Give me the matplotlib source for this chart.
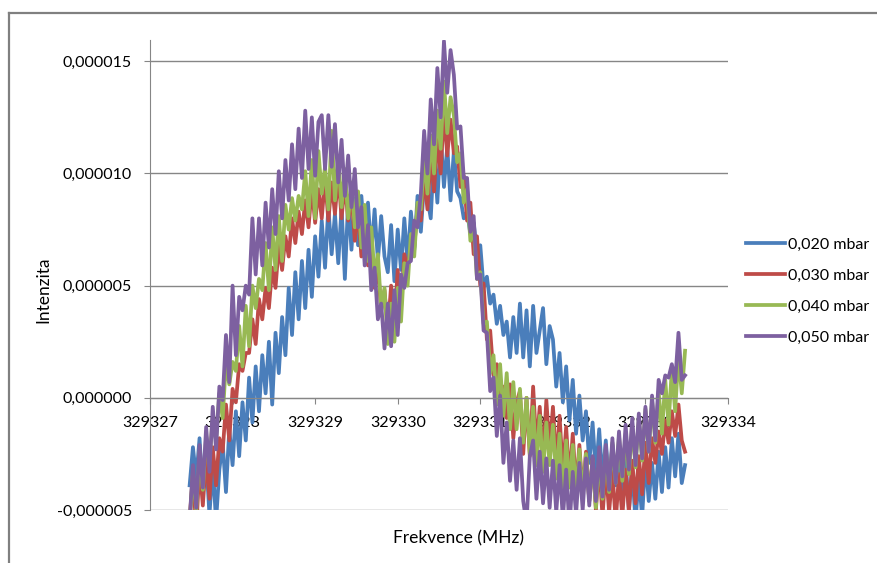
import numpy as np
import matplotlib
matplotlib.use("Agg")
import matplotlib.pyplot as plt
from matplotlib.ticker import FuncFormatter

plt.rcParams['font.family'] = ['Lato', 'DejaVu Sans']

# frequency sweep, MHz (151 samples)
freq = np.linspace(329327.48, 329333.48, 151)

# intensity in units of 1e-6
p020 = [-3.9, -2.2, -3.6, -1.8, -4.3, -2.7, -5.2, -3.0, -5.5, -3.2,
        -2.0, -4.2, -1.4, -3.0, -0.6, -2.6, -0.2, -1.9, 0.9, -1.1,
        1.4, -0.6, 1.9, 0.2, 2.5, -0.3, 2.9, 1.1, 3.6, 1.9,
        4.9, 2.8, 5.6, 3.5, 6.1, 4.0, 6.6, 4.5, 7.2, 5.4,
        7.9, 5.8, 8.5, 6.4, 8.2, 6.0, 8.5, 5.3, 8.8, 6.6,
        8.9, 6.8, 9.0, 7.0, 8.7, 6.4, 8.4, 6.1, 8.1, 6.3,
        5.6, 7.7, 5.2, 7.5, 5.7, 8.0, 6.0, 8.3, 6.6, 9.0,
        7.4, 9.6, 8.9, 8.0, 11.0, 8.7, 11.7, 9.4, 11.2, 8.8,
        11.0, 9.2, 8.9, 8.0, 8.3, 7.3, 7.8, 6.5, 6.8, 4.9,
        5.4, 4.2, 4.6, 3.3, 4.1, 2.8, 3.4, 1.8, 3.6, 2.0,
        4.2, 1.8, 3.9, 1.4, 4.1, 2.0, 3.0, 4.0, 1.5, 3.2,
        2.6, 0.5, 2.0, -0.2, 1.4, -1.0, 0.8, -1.6, 0.1, -1.9,
        -0.6, -2.9, -1.1, -3.4, -1.4, -3.7, -1.9, -4.0, -2.1, -3.9,
        -2.3, -4.5, -2.8, -5.0, -3.2, -5.5, -3.5, -5.3, -2.7, -4.6,
        -2.9, -4.5, -2.4, -4.2, -2.2, -4.0, -1.8, -3.5, -1.6, -3.8, -3.0]

p030 = [-5.4, -3.4, -5.9, -3.0, -4.8, -2.6, -4.5, -2.2, -3.9, -1.8,
        -2.4, -0.3, -1.9, 0.4, -0.2, 1.5, 1.2, 2.0, 2.0, 3.5,
        2.4, 4.4, 3.5, 4.9, 4.0, 5.8, 4.9, 6.8, 5.7, 7.2,
        6.3, 8.0, 6.9, 8.3, 7.3, 8.8, 7.6, 9.4, 7.8, 9.3,
        8.0, 9.8, 7.9, 9.6, 8.2, 10.0, 8.0, 9.6, 7.9, 9.1,
        7.0, 8.4, 6.3, 7.4, 5.9, 6.5, 4.9, 5.8, 3.9, 4.8,
        3.0, 5.0, 3.3, 5.7, 4.0, 6.4, 5.7, 6.8, 6.7, 8.5,
        7.9, 9.9, 8.4, 10.8, 9.2, 11.6, 10.0, 12.8, 10.8, 12.4,
        10.9, 11.2, 9.4, 9.9, 7.9, 8.7, 6.4, 7.2, 5.0, 5.1,
        2.6, 3.0, 1.0, 1.5, 0.0, 0.5, -0.9, 0.6, -1.8, -0.2,
        0.3, -2.5, 0.0, -2.6, 0.5, -2.2, -0.4, -2.8, -0.1, -2.3,
        -0.4, -3.0, -0.8, -3.3, -1.3, -3.7, -1.6, -4.1, -2.1, -4.3,
        -2.4, -4.6, -2.7, -5.0, -2.9, -5.3, -3.1, -5.1, -3.3, -5.5,
        -3.4, -5.3, -3.2, -5.1, -2.8, -4.7, -2.6, -4.3, -2.0, -3.8,
        -1.8, -2.9, -1.5, -2.5, -1.0, -2.0, -0.6, -1.7, -0.3, -1.9, -2.4]

p040 = [-5.6, -3.3, -5.0, -2.4, -4.1, -1.7, -2.8, -0.9, -1.9, 0.2,
        -0.9, 1.6, 0.6, 1.6, 1.2, 3.2, 1.4, 4.1, 2.3, 5.0,
        4.0, 5.3, 4.8, 6.9, 4.8, 7.6, 5.7, 8.1, 6.1, 8.6,
        7.5, 8.9, 7.9, 9.0, 8.4, 10.1, 8.1, 10.6, 8.0, 11.0,
        9.1, 10.3, 8.4, 11.9, 8.8, 10.7, 8.5, 10.2, 8.0, 9.6,
        7.6, 9.2, 6.7, 8.6, 6.1, 7.6, 5.4, 6.4, 3.9, 4.9,
        2.4, 4.2, 2.5, 4.9, 3.4, 6.0, 5.0, 7.3, 6.3, 8.7,
        8.4, 10.7, 9.1, 11.7, 10.0, 12.8, 11.1, 14.1, 11.8, 13.4,
        12.6, 10.5, 10.9, 8.7, 9.3, 7.0, 7.6, 5.3, 5.6, 3.3,
        3.4, 1.1, 1.9, -0.3, 1.5, -0.8, 1.1, -1.4, 0.7, -1.4,
        0.4, -2.0, 0.0, -2.5, -0.4, -3.0, -0.8, -3.3, -1.1, -3.0,
        -1.2, -3.6, -1.6, -4.6, -1.9, -4.0, -2.1, -4.3, -2.3, -4.4,
        -2.5, -4.6, -2.8, -4.9, -2.6, -4.5, -2.3, -4.2, -2.0, -3.8,
        -1.7, -3.7, -1.6, -3.4, -1.2, -3.1, -0.9, -2.8, -0.5, -2.4,
        -0.1, -2.0, 0.3, -1.6, 0.8, -1.2, 1.3, -0.6, 1.9, 0.2, 2.1]

p050 = [-5.5, -3.0, -4.9, -2.1, -4.0, -1.3, -3.3, -0.4, -2.3, 0.5,
        -0.1, 2.8, 0.7, 5.0, 1.9, 4.5, 3.9, 5.0, 4.6, 8.0,
        5.5, 8.0, 5.9, 8.7, 6.7, 9.3, 7.3, 10.1, 8.0, 10.6,
        8.8, 11.3, 9.3, 12.0, 9.8, 12.8, 10.2, 12.5, 9.9, 12.3,
        12.6, 10.2, 12.6, 10.3, 12.2, 9.6, 11.5, 9.0, 10.8, 8.5,
        10.2, 7.6, 8.5, 5.9, 7.7, 4.8, 5.8, 3.5, 4.2, 2.2,
        4.2, 2.3, 4.8, 2.8, 5.5, 4.9, 6.0, 6.1, 7.9, 7.6,
        9.1, 11.9, 10.0, 13.3, 11.3, 14.7, 12.5, 15.9, 13.6, 15.5,
        14.4, 12.0, 12.1, 9.8, 9.8, 7.4, 8.1, 5.3, 5.5, 3.0,
        2.9, 0.3, 0.9, -1.7, 0.1, -2.9, -1.1, -3.7, -1.9, -4.1,
        -1.8, -4.6, -5.6, -2.6, -1.9, -4.5, -2.4, -4.7, -2.7, -4.9,
        -2.8, -5.1, -3.0, -5.4, -3.2, -5.8, -3.3, -5.2, -2.9, -5.0,
        -2.7, -4.8, -2.6, -4.6, -2.2, -4.4, -2.1, -4.1, -1.8, -3.8,
        -1.5, -3.5, -1.2, -3.2, -0.9, -3.0, -0.7, -2.7, -0.4, -2.4,
        0.1, -1.9, 0.8, 0.2, 1.0, 0.9, 1.5, 0.7, 2.9, 0.8, 1.0]

labels = ["0,020 mbar", "0,030 mbar", "0,040 mbar", "0,050 mbar"]
colors = ["#4A7EBB", "#BE4B48", "#98B954", "#7D60A0"]
series = [p020, p030, p040, p050]

fig = plt.figure(figsize=(8.77, 5.63), dpi=100)
ax = fig.add_axes([150/877, 53/563, 578/877, 470/563])

for vals, lab, col in zip(series, labels, colors):
    ax.plot(freq, vals, color=col, lw=2.7, label=lab, solid_joinstyle="round")

ax.set_xlim(329327, 329334)
ax.set_ylim(-5, 15.95)
ax.set_yticks([-5, 0, 5, 10, 15])
ax.set_xticks(np.arange(329327, 329335, 1))
ax.xaxis.set_major_formatter(FuncFormatter(lambda v, p: "%d" % round(v)))
ax.yaxis.set_major_formatter(FuncFormatter(lambda v, p: ("%.6f" % (v * 1e-6)).replace(".", ",")))
ax.grid(axis="y", color="#868686", lw=1)
ax.set_axisbelow(True)

for s in ["top", "right"]:
    ax.spines[s].set_visible(False)
ax.spines["left"].set_color("#868686")
ax.spines["bottom"].set_color("#868686")
ax.spines["bottom"].set_position(("data", 0))
ax.tick_params(axis="y", length=4, color="#868686", pad=9, labelsize=11.5)
ax.tick_params(axis="x", length=4, color="#868686", pad=9, labelsize=11.5)

ax.set_ylabel("Intenzita", fontsize=12.5)
ax.yaxis.set_label_coords(51/877, (563-290)/563, transform=fig.transFigure)
fig.text(459/877, (563-538)/563, "Frekvence (MHz)", ha="center", va="center", fontsize=12.5)

fig.legend(loc="center left", bbox_to_anchor=(740/877, (563-291)/563), frameon=False,
           fontsize=11.5, handlelength=2.4, handletextpad=0.2, labelspacing=1.05,
           borderaxespad=0)

# chart area border (left and top edges visible)
fig.add_artist(plt.Line2D([9/877, 9/877], [0, (563-13)/563], color="#808080", lw=1.6))
fig.add_artist(plt.Line2D([9/877, 1], [(563-13)/563, (563-13)/563], color="#808080", lw=1.6))

fig.savefig("out.png", dpi=100)
